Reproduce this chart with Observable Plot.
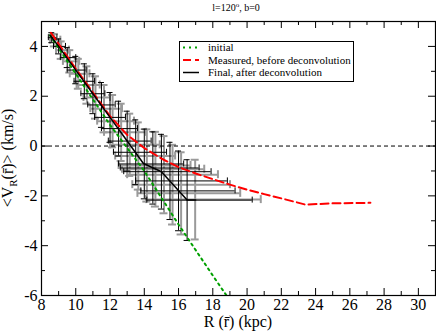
<!DOCTYPE html>
<html><head><meta charset="utf-8">
<script src="https://cdn.jsdelivr.net/npm/d3@7"></script>
<script src="https://cdn.jsdelivr.net/npm/@observablehq/plot@0.6"></script>
<style>
body{margin:0;background:#fff}
#chart{position:relative;width:436px;height:332px}
svg{overflow:visible}
#chart svg text{font-family:"Liberation Serif","Times New Roman",Times,"DejaVu Serif","Noto Serif",serif !important}
</style>
</head><body><div id="chart"></div>
<script>
// ---- data ----
const titleText = "l=120";
const initialR = [8.5, 10, 12, 14, 16, 18, 19];
const initialV = [4.45, 2.9, 0.85, -1.0, -3.15, -5.2, -6.2];

const measuredR = [8.55, 8.8, 9.2, 10, 11, 12, 13, 14, 15, 16, 17, 18, 19, 20, 21, 22, 23.4, 25, 27.2];
const measuredV = [4.55, 4.3, 3.9, 3.1, 2.15, 1.2, 0.45, -0.08, -0.5, -0.85, -1.1, -1.33, -1.55, -1.75, -1.93, -2.1, -2.35, -2.3, -2.28];

const finalR = [8.5, 9, 10, 11, 12, 13, 13.95, 15.0, 16.5, 17];
const finalV = [4.45, 4.0, 3.05, 2.1, 1.15, 0.2, -0.7, -1.03, -2.17, -2.17];

const errR   = [8.6, 9.0, 9.5, 10.0, 10.5, 11.0, 11.5, 12.0, 12.5, 13.0, 13.5, 14.0, 14.5, 15.0, 15.5, 16.0, 16.5];
const errV   = [4.35, 4.0, 3.55, 3.05, 2.6, 2.1, 1.65, 1.15, 0.7, 0.2, -0.25, -0.72, -0.88, -1.03, -1.4, -1.8, -2.17];
const errRlo = [8.4, 8.7, 9.1, 9.5, 9.9, 10.3, 10.7, 11.1, 11.5, 11.9, 12.2, 12.5, 12.6, 12.8, 13.5, 13.8, 14.15];
const errRhi = [8.9, 9.4, 10.0, 10.6, 11.1, 11.7, 12.3, 12.9, 13.6, 14.4, 15.3, 16.3, 17.2, 17.9, 18.85, 19.3, 20.3];
const errVe  = [0.2, 0.3, 0.4, 0.55, 0.7, 0.8, 0.9, 1.0, 1.1, 1.2, 1.3, 1.4, 1.45, 1.5, 1.55, 1.6, 1.62];

const grayR   = [8.75, 9.15, 9.65, 10.15, 10.65, 11.15, 11.65, 12.15, 12.65, 13.15, 13.65, 14.15, 14.65, 15.15, 15.65, 16.15, 16.97];
const grayV   = [4.25, 3.85, 3.4, 2.9, 2.45, 1.95, 1.5, 1.0, 0.55, 0.05, -0.4, -0.78, -0.93, -1.15, -1.55, -1.9, -2.15];
const grayRlo = [8.5, 8.85, 9.25, 9.65, 10.05, 10.45, 10.85, 11.25, 11.65, 12.0, 12.3, 12.5, 12.7, 13.0, 13.3, 13.6, 14.1];
const grayRhi = [9.1, 9.6, 10.2, 10.8, 11.4, 12.0, 12.7, 13.4, 14.1, 14.9, 15.8, 16.7, 17.5, 18.3, 19.0, 19.6, 20.8];
const grayVe  = [0.25, 0.35, 0.45, 0.6, 0.75, 0.85, 0.95, 1.05, 1.15, 1.25, 1.35, 1.45, 1.5, 1.55, 1.6, 1.65, 1.6];

const xMajor = [8, 10, 12, 14, 16, 18, 20, 22, 24, 26, 28, 30];
const xMinor = [9, 11, 13, 15, 17, 19, 21, 23, 25, 27, 29];
const yMajor = [-6, -4, -2, 0, 2, 4];
const yMinor = [-5, -3, -1, 1, 3];

const legendLabels = ["initial", "Measured, before deconvolution", "Final, after deconvolution"];

// ---- build tables ----
const initial = initialR.map((R, i) => ({R, V: initialV[i]}));
const measured = measuredR.map((R, i) => ({R, V: measuredV[i]}));
const fin = finalR.map((R, i) => ({R, V: finalV[i]}));
const errB = errR.map((R, i) => ({R, V: errV[i], lo: errRlo[i], hi: errRhi[i], e: errVe[i]}));
const errG = grayR.map((R, i) => ({R, V: grayV[i], lo: grayRlo[i], hi: grayRhi[i], e: grayVe[i]}));

const W = 436, H = 332, mL = 41, mR = 1, mT = 21, mB = 37;
const pH = H - mT - mB, pW = W - mL - mR;
const green = "#00a000", red = "#ff0000", gray = "#9a9a9a";
const serif = '"Liberation Serif", "Times New Roman", Times, "DejaVu Serif", "Noto Serif", serif';

function errMarks(data, color, sw, cap) {
  return [
    Plot.ruleX(data, {x: "R", y1: d => d.V - d.e, y2: d => d.V + d.e, stroke: color, strokeWidth: sw}),
    Plot.ruleY(data, {y: "V", x1: "lo", x2: "hi", stroke: color, strokeWidth: sw}),
    Plot.ruleY(data, {y: d => d.V - d.e, x1: "R", x2: "R", insetLeft: -cap, insetRight: -cap, stroke: color, strokeWidth: sw}),
    Plot.ruleY(data, {y: d => d.V + d.e, x1: "R", x2: "R", insetLeft: -cap, insetRight: -cap, stroke: color, strokeWidth: sw}),
    Plot.ruleX(data, {x: "lo", y1: "V", y2: "V", insetTop: -cap, insetBottom: -cap, stroke: color, strokeWidth: sw}),
    Plot.ruleX(data, {x: "hi", y1: "V", y2: "V", insetTop: -cap, insetBottom: -cap, stroke: color, strokeWidth: sw})
  ];
}

const chart = Plot.plot({
  width: W, height: H,
  marginLeft: mL, marginRight: mR, marginTop: mT, marginBottom: mB,
  style: {fontFamily: serif, fontSize: "16px", background: "#fff", color: "#000"},
  x: {domain: [8, 31]},
  y: {domain: [-6, 5]},
  marks: [
    ...errMarks(errG, gray, 2, 4),
    ...errMarks(errB, "#000", 1, 3),
    Plot.ruleY([0], {stroke: "#000", strokeWidth: 1, strokeDasharray: "4,3"}),
    Plot.line(initial, {x: "R", y: "V", stroke: green, strokeWidth: 2, strokeDasharray: "2,4", clip: true}),
    Plot.line(measured, {x: "R", y: "V", stroke: red, strokeWidth: 2, strokeDasharray: "8,4"}),
    Plot.line(fin, {x: "R", y: "V", stroke: "#000", strokeWidth: 1.5}),
    // inward ticks
    Plot.tickX(xMajor, {x: d => d, insetTop: pH - 7, stroke: "#000"}),
    Plot.tickX(xMajor, {x: d => d, insetBottom: pH - 7, stroke: "#000"}),
    Plot.tickX(xMinor, {x: d => d, insetTop: pH - 4, stroke: "#000"}),
    Plot.tickX(xMinor, {x: d => d, insetBottom: pH - 4, stroke: "#000"}),
    Plot.tickY(yMajor, {y: d => d, insetRight: pW - 7, stroke: "#000"}),
    Plot.tickY(yMajor, {y: d => d, insetLeft: pW - 7, stroke: "#000"}),
    Plot.tickY(yMinor, {y: d => d, insetRight: pW - 4, stroke: "#000"}),
    Plot.tickY(yMinor, {y: d => d, insetLeft: pW - 4, stroke: "#000"}),
    Plot.axisX({ticks: xMajor, tickSize: 0, tickPadding: 3, label: null, tickFormat: d => String(d), fontSize: 16}),
    Plot.axisY({ticks: yMajor, tickSize: 0, tickPadding: 4, label: null, tickFormat: d => String(d), fontSize: 16}),
    Plot.frame({stroke: "#000", strokeWidth: 1.2})
  ]
});

document.getElementById("chart").appendChild(chart);
const svg = d3.select(chart);

// title
const t = svg.append("text").attr("x", 236).attr("y", 11).attr("text-anchor", "middle")
  .attr("font-size", 10).attr("fill", "#000");
t.append("tspan").text(titleText);
t.append("tspan").attr("font-size", 7).attr("dy", -4).text("o");
t.append("tspan").attr("dy", 4).text(", b=0");

// x label
svg.append("text").attr("x", 238).attr("y", 327).attr("text-anchor", "middle")
  .attr("font-size", 16).attr("fill", "#000")
  .text("R (r\u0304) (kpc)");

// y label
const yl = svg.append("text").attr("transform", "translate(13,158) rotate(-90)").attr("text-anchor", "middle")
  .attr("font-size", 16).attr("fill", "#000");
yl.append("tspan").text("<V");
yl.append("tspan").attr("font-size", 11).attr("dy", 4).text("R");
yl.append("tspan").attr("dy", -4).text("(r\u0304)> (km/s)");

// legend
const lg = svg.append("g").attr("text-anchor", "start");
lg.append("rect").attr("x", 179.5).attr("y", 41.5).attr("width", 174).attr("height", 40)
  .attr("fill", "#fff").attr("stroke", "#000").attr("stroke-width", 1);
const styles = [
  {stroke: green, dash: "2,4", w: 2},
  {stroke: red, dash: "8,4", w: 2},
  {stroke: "#000", dash: null, w: 1.5}
];
const rowsY = [47.5, 60, 72.5];
legendLabels.forEach((lab, i) => {
  const ln = lg.append("line").attr("x1", 183).attr("x2", 199).attr("y1", rowsY[i]).attr("y2", rowsY[i])
    .attr("stroke", styles[i].stroke).attr("stroke-width", styles[i].w);
  if (styles[i].dash) ln.attr("stroke-dasharray", styles[i].dash);
  lg.append("text").attr("x", 208).attr("y", rowsY[i] + 3.5).attr("text-anchor", "start")
    .attr("font-size", 11).attr("fill", "#000").text(lab);
});
</script>
</body></html>
